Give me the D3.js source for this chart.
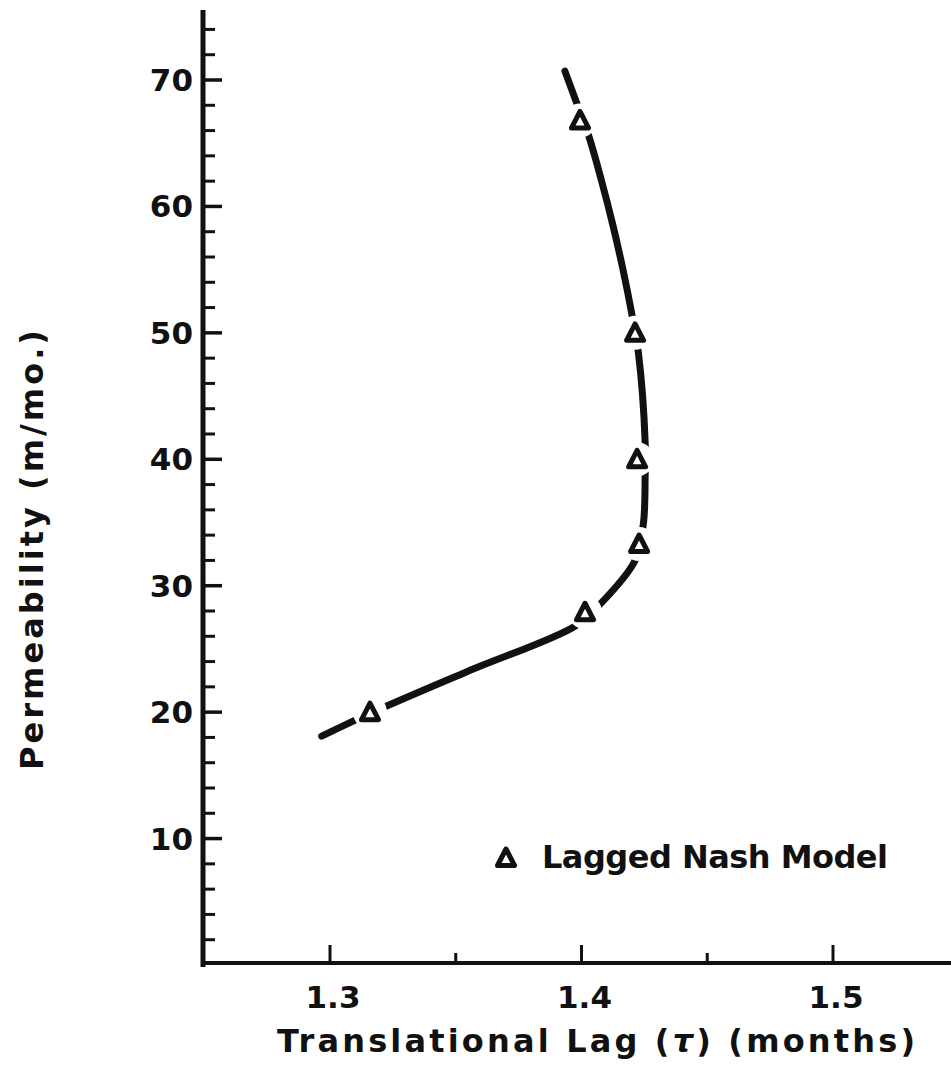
<!DOCTYPE html>
<html>
<head>
<meta charset="utf-8">
<script src="https://cdn.jsdelivr.net/npm/d3@7/dist/d3.min.js"></script>
<style>
  html, body { margin: 0; padding: 0; background: #fff; }
  svg { display: block; }
</style>
</head>
<body>
<div id="chart"></div>
<script>
// Permeability vs translational lag — scanned-plot look: heavy ink axes,
// inward ticks, one smooth fitted line with gaps around the triangle markers.

// Lagged Nash Model points (months, m/mo.)
const modelLag  = [1.3159, 1.4014, 1.4229, 1.4221, 1.4213, 1.3994];
const modelPerm = [20.0, 27.9, 33.3, 40.0, 50.0, 66.8];

// hand-drawn fitted curve, read along the ink
const curveLag  = [1.2967, 1.3159, 1.3544, 1.3974, 1.4067, 1.4213, 1.4246, 1.4253, 1.4253, 1.4227, 1.4200, 1.4165, 1.4125, 1.4080, 1.4030, 1.3975, 1.3934];
const curvePerm = [18.1, 19.9, 23.2, 26.8, 28.4, 32.0, 34.9, 38.6, 41.4, 48.3, 51.5, 55.0, 58.5, 62.0, 65.5, 68.5, 70.7];

// axis ticks
const xMajor = [1.3, 1.4, 1.5];
const xMinor = [1.35, 1.45, 1.55];
const xTickLabels = ['1.3', '1.4', '1.5'];
const yMajor = [10, 20, 30, 40, 50, 60, 70];
const yMinor = [2, 4, 6, 8, 12, 14, 16, 18, 22, 24, 26, 28, 32, 34, 36, 38, 42, 44, 46, 48, 52, 54, 56, 58, 62, 64, 66, 68, 72, 74];

const legendLabel = 'Lagged Nash Model';
const yTitle = 'Permeability  (m/mo.)';

(function () {
  const W = 951, H = 1081;
  const INK = '#111';
  const FONT = '"DejaVu Sans", sans-serif';

  const x = d3.scaleLinear().domain([1.3, 1.5]).range([330, 833]);
  const y = d3.scaleLinear().domain([0, 70]).range([965, 80]);
  const axisX = x.invert(203);           // y-axis sits left of 1.3
  const yTop = y.invert(10);

  const svg = d3.select('#chart').append('svg')
    .attr('width', W).attr('height', H)
    .attr('viewBox', `0 0 ${W} ${H}`);

  svg.append('rect').attr('width', W).attr('height', H).attr('fill', '#fff');

  // Axes — drawn by hand so ticks point inward like the original
  svg.append('line')
    .attr('x1', x(axisX)).attr('x2', x(axisX))
    .attr('y1', y(yTop)).attr('y2', y(0) + 2)
    .attr('stroke', INK).attr('stroke-width', 5);
  svg.append('line')
    .attr('x1', x(axisX) - 2).attr('x2', W)
    .attr('y1', y(0) - 2).attr('y2', y(0) - 2)
    .attr('stroke', INK).attr('stroke-width', 4);

  const yAxisX = x(axisX);
  svg.selectAll('.ymaj').data(yMajor).enter().append('line')
    .attr('x1', yAxisX).attr('x2', yAxisX + 19)
    .attr('y1', d => y(d)).attr('y2', d => y(d))
    .attr('stroke', INK).attr('stroke-width', 3.5);
  svg.selectAll('.ymin').data(yMinor).enter().append('line')
    .attr('x1', yAxisX).attr('x2', yAxisX + 12)
    .attr('y1', d => y(d)).attr('y2', d => y(d))
    .attr('stroke', INK).attr('stroke-width', 3);

  svg.selectAll('.ylab').data(yMajor).enter().append('text')
    .attr('x', yAxisX - 10).attr('y', d => y(d) + 11)
    .attr('text-anchor', 'end')
    .attr('font-family', FONT).attr('font-weight', 700)
    .attr('font-size', 31).attr('fill', INK)
    .text(d => d);

  const baseY = y(0) - 2;
  svg.selectAll('.xmaj').data(xMajor).enter().append('line')
    .attr('x1', d => x(d)).attr('x2', d => x(d))
    .attr('y1', baseY).attr('y2', baseY - 18)
    .attr('stroke', INK).attr('stroke-width', 3);
  svg.selectAll('.xmin').data(xMinor).enter().append('line')
    .attr('x1', d => x(d)).attr('x2', d => x(d))
    .attr('y1', baseY).attr('y2', baseY - 10)
    .attr('stroke', INK).attr('stroke-width', 3);

  svg.selectAll('.xlab').data(xMajor).enter().append('text')
    .attr('x', d => x(d) + 3).attr('y', 1008)
    .attr('text-anchor', 'middle')
    .attr('font-family', FONT).attr('font-weight', 700)
    .attr('font-size', 31).attr('fill', INK)
    .text((d, i) => xTickLabels[i]);

  // Axis titles
  svg.append('text')
    .attr('transform', 'translate(43,550) rotate(-90)')
    .attr('text-anchor', 'middle')
    .attr('font-family', FONT).attr('font-weight', 700)
    .attr('font-size', 32).attr('fill', INK)
    .attr('textLength', 440).attr('lengthAdjust', 'spacing')
    .text(yTitle);

  const xt = svg.append('text')
    .attr('x', 277).attr('y', 1052)
    .attr('font-family', FONT).attr('font-weight', 700)
    .attr('font-size', 32).attr('fill', INK)
    .attr('textLength', 638).attr('lengthAdjust', 'spacing');
  xt.append('tspan').text('Translational  Lag  (');
  xt.append('tspan').attr('font-style', 'italic').text('τ');
  xt.append('tspan').text(')   (months)');

  // Mask: gaps in the line around each marker
  const mask = svg.append('defs').append('mask').attr('id', 'gaps');
  mask.append('rect').attr('width', W).attr('height', H).attr('fill', '#fff');
  mask.selectAll('circle').data(modelLag).enter().append('circle')
    .attr('cx', d => x(d)).attr('cy', (d, i) => y(modelPerm[i]))
    .attr('r', 17).attr('fill', '#000');

  const line = d3.line()
    .x(d => x(d[0])).y(d => y(d[1]))
    .curve(d3.curveCatmullRom.alpha(0.5));

  svg.append('path')
    .datum(curveLag.map((v, i) => [v, curvePerm[i]]))
    .attr('d', line)
    .attr('fill', 'none')
    .attr('stroke', INK).attr('stroke-width', 7)
    .attr('stroke-linecap', 'round')
    .attr('mask', 'url(#gaps)');

  const tri = 'M0,-9L8.5,7.5L-8.5,7.5Z';
  svg.selectAll('.tri').data(modelLag).enter().append('path')
    .attr('d', tri)
    .attr('transform', (d, i) => `translate(${x(d)},${y(modelPerm[i])})`)
    .attr('fill', '#fff').attr('stroke', INK)
    .attr('stroke-width', 5).attr('stroke-linejoin', 'round');

  // Legend
  svg.append('path')
    .attr('d', tri)
    .attr('transform', 'translate(506,858)')
    .attr('fill', '#fff').attr('stroke', INK)
    .attr('stroke-width', 5).attr('stroke-linejoin', 'round');
  svg.append('text')
    .attr('x', 542).attr('y', 868)
    .attr('font-family', FONT).attr('font-weight', 700)
    .attr('font-size', 32).attr('fill', INK)
    .attr('textLength', 346).attr('lengthAdjust', 'spacing')
    .text(legendLabel);
})();
</script>
</body>
</html>
